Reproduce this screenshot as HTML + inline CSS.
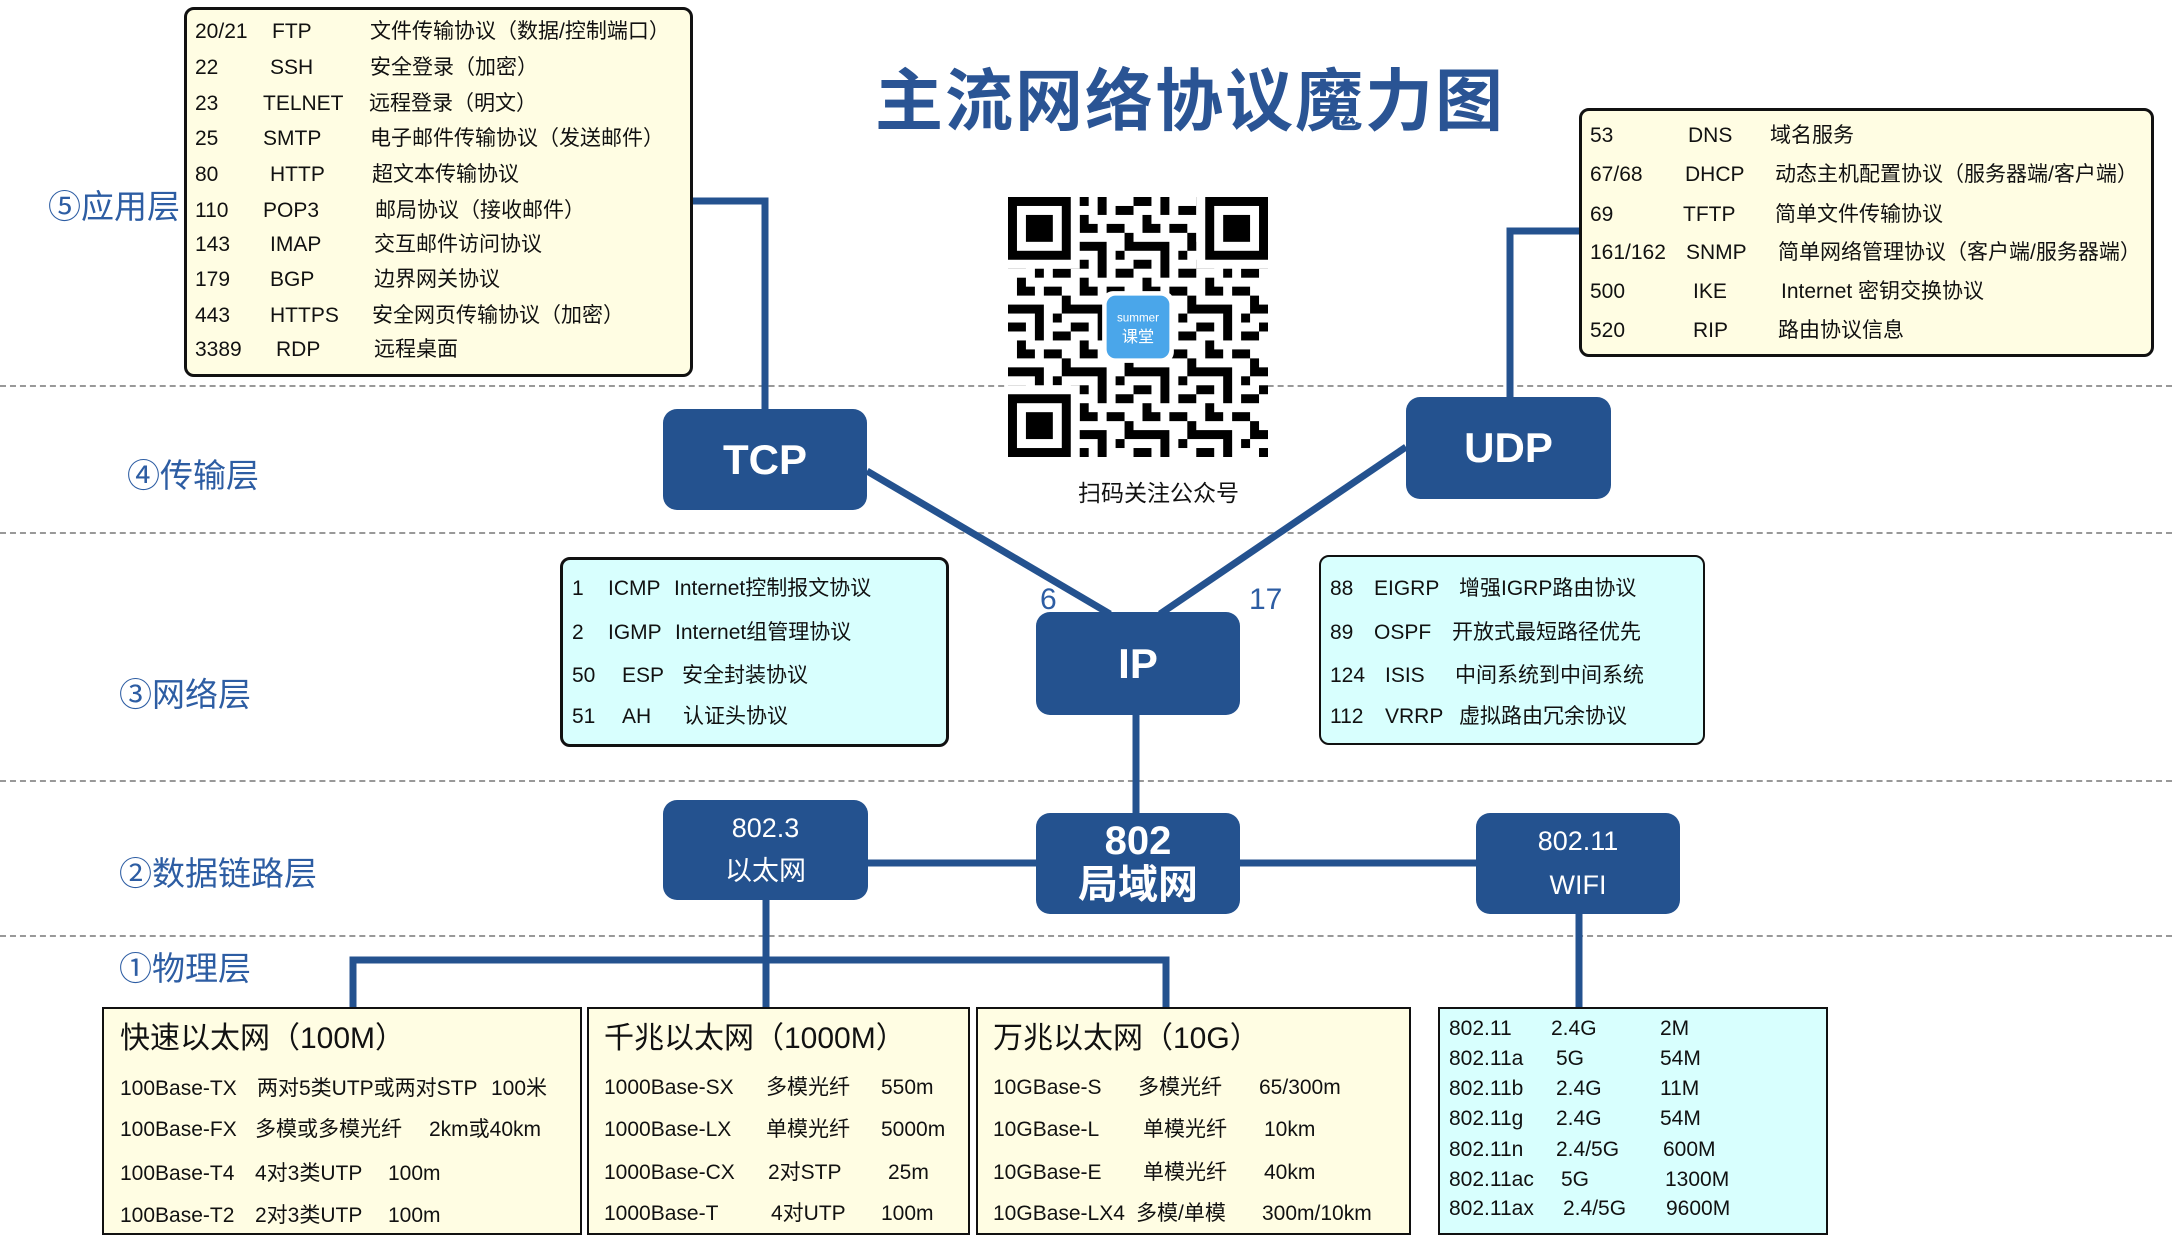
<!DOCTYPE html>
<html><head><meta charset="utf-8"><style>
html,body{margin:0;padding:0}
body{width:2172px;height:1244px;position:relative;overflow:hidden;background:#fff;font-family:"Liberation Sans","Noto Sans CJK SC",sans-serif;color:#111}
.a{position:absolute;white-space:nowrap;line-height:1}
.f{font-size:21px}
.box{position:absolute;box-sizing:border-box}
.y{background:#fffde3;border:3px solid #111;border-radius:10px}
.c{background:#d8fffe;border:2px solid #111;border-radius:10px}
.n{position:absolute;background:#24528f;border-radius:14px;color:#fff;display:flex;flex-direction:column;align-items:center;justify-content:center;box-sizing:border-box;text-align:center}
.n span{display:block;width:100%;text-align:center}
.L{position:absolute;color:#2d5da3;font-size:33px;line-height:1;white-space:nowrap}
.d{position:absolute;left:0;width:2172px;border-top:2px dashed #999}
.p{position:absolute;box-sizing:border-box;background:#fffde3;border:2px solid #111}
</style></head><body>

<div class="d" style="top:385px"></div>
<div class="d" style="top:532px"></div>
<div class="d" style="top:780px"></div>
<div class="d" style="top:935px"></div>

<svg class="a" style="left:0;top:0" width="2172" height="1244">
<g stroke="#24528f" stroke-width="7" fill="none">
<polyline points="693,201 765,201 765,412"/>
<polyline points="1579,231 1510,231 1510,400"/>
<line x1="867" y1="471" x2="1110" y2="614"/>
<line x1="1406" y1="447" x2="1160" y2="614"/>
<line x1="1136" y1="715" x2="1136" y2="813"/>
<line x1="868" y1="863" x2="1036" y2="863"/>
<line x1="1240" y1="863" x2="1476" y2="863"/>
<line x1="766" y1="900" x2="766" y2="1007"/>
<polyline points="353,1007 353,960 1166,960 1166,1007"/>
<line x1="1579" y1="914" x2="1579" y2="1007"/>
</g>
</svg>

<div class="L" style="left:48px;top:190px">⑤应用层</div>
<div class="L" style="left:127px;top:459px">④传输层</div>
<div class="L" style="left:119px;top:678px">③网络层</div>
<div class="L" style="left:119px;top:857px">②数据链路层</div>
<div class="L" style="left:119px;top:952px">①物理层</div>

<div class="a" style="left:875px;top:68px;font-size:68px;font-weight:bold;color:#2a5494;letter-spacing:2px">主流网络协议魔力图</div>

<!-- QR -->
<svg class="a" style="left:1008px;top:197px" width="260" height="260" viewBox="0 0 29 29">
<defs><pattern id="q" width="7" height="7" patternUnits="userSpaceOnUse">
<rect x="0" y="0" width="2" height="1"/><rect x="3" y="0" width="1" height="2"/><rect x="5" y="1" width="2" height="1"/><rect x="1" y="2" width="1" height="2"/><rect x="4" y="3" width="2" height="1"/><rect x="0" y="5" width="3" height="1"/><rect x="6" y="4" width="1" height="2"/><rect x="3" y="5" width="1" height="2"/><rect x="5" y="6" width="1" height="1"/><rect x="2" y="3" width="1" height="1"/></pattern></defs>
<rect width="29" height="29" fill="#fff"/>
<rect width="29" height="29" fill="url(#q)"/>
<g><rect x="0" y="0" width="8" height="8" fill="#fff"/><rect x="21" y="0" width="8" height="8" fill="#fff"/><rect x="0" y="21" width="8" height="8" fill="#fff"/>
<rect x="0" y="0" width="7" height="7"/><rect x="1" y="1" width="5" height="5" fill="#fff"/><rect x="2" y="2" width="3" height="3"/>
<rect x="22" y="0" width="7" height="7"/><rect x="23" y="1" width="5" height="5" fill="#fff"/><rect x="24" y="2" width="3" height="3"/>
<rect x="0" y="22" width="7" height="7"/><rect x="1" y="23" width="5" height="5" fill="#fff"/><rect x="2" y="24" width="3" height="3"/></g>
<rect x="10.5" y="10.5" width="8" height="8" rx="1.2" fill="#fff"/>
<rect x="11" y="11" width="7" height="7" rx="1" fill="#4aa6ea"/>
<text x="14.5" y="13.9" font-size="1.3" fill="#fff" text-anchor="middle" font-family="Liberation Sans">summer</text>
<text x="14.5" y="16.2" font-size="1.8" fill="#fff" text-anchor="middle" font-family="Noto Sans CJK SC">课堂</text>
</svg>
<div class="a" style="left:1078px;top:482px;font-size:23px">扫码关注公众号</div>

<!-- App box -->
<div class="box y" style="left:184px;top:7px;width:509px;height:370px"></div>
<div class="a f" style="left:195px;top:21px">20/21</div><div class="a f" style="left:272px;top:21px">FTP</div><div class="a f" style="left:370px;top:21px">文件传输协议（数据/控制端口）</div>
<div class="a f" style="left:195px;top:57px">22</div><div class="a f" style="left:270px;top:57px">SSH</div><div class="a f" style="left:370px;top:57px">安全登录（加密）</div>
<div class="a f" style="left:195px;top:93px">23</div><div class="a f" style="left:263px;top:93px">TELNET</div><div class="a f" style="left:369px;top:93px">远程登录（明文）</div>
<div class="a f" style="left:195px;top:128px">25</div><div class="a f" style="left:263px;top:128px">SMTP</div><div class="a f" style="left:370px;top:128px">电子邮件传输协议（发送邮件）</div>
<div class="a f" style="left:195px;top:164px">80</div><div class="a f" style="left:270px;top:164px">HTTP</div><div class="a f" style="left:372px;top:164px">超文本传输协议</div>
<div class="a f" style="left:195px;top:200px">110</div><div class="a f" style="left:263px;top:200px">POP3</div><div class="a f" style="left:375px;top:200px">邮局协议（接收邮件）</div>
<div class="a f" style="left:195px;top:234px">143</div><div class="a f" style="left:270px;top:234px">IMAP</div><div class="a f" style="left:374px;top:234px">交互邮件访问协议</div>
<div class="a f" style="left:195px;top:269px">179</div><div class="a f" style="left:270px;top:269px">BGP</div><div class="a f" style="left:374px;top:269px">边界网关协议</div>
<div class="a f" style="left:195px;top:305px">443</div><div class="a f" style="left:270px;top:305px">HTTPS</div><div class="a f" style="left:372px;top:305px">安全网页传输协议（加密）</div>
<div class="a f" style="left:195px;top:339px">3389</div><div class="a f" style="left:276px;top:339px">RDP</div><div class="a f" style="left:374px;top:339px">远程桌面</div>

<!-- UDP box list -->
<div class="box y" style="left:1579px;top:108px;width:575px;height:249px"></div>
<div class="a f" style="left:1590px;top:125px">53</div><div class="a f" style="left:1688px;top:125px">DNS</div><div class="a f" style="left:1770px;top:125px">域名服务</div>
<div class="a f" style="left:1590px;top:164px">67/68</div><div class="a f" style="left:1685px;top:164px">DHCP</div><div class="a f" style="left:1775px;top:164px">动态主机配置协议（服务器端/客户端）</div>
<div class="a f" style="left:1590px;top:204px">69</div><div class="a f" style="left:1683px;top:204px">TFTP</div><div class="a f" style="left:1775px;top:204px">简单文件传输协议</div>
<div class="a f" style="left:1590px;top:242px">161/162</div><div class="a f" style="left:1686px;top:242px">SNMP</div><div class="a f" style="left:1778px;top:242px">简单网络管理协议（客户端/服务器端）</div>
<div class="a f" style="left:1590px;top:281px">500</div><div class="a f" style="left:1693px;top:281px">IKE</div><div class="a f" style="left:1781px;top:281px">Internet 密钥交换协议</div>
<div class="a f" style="left:1590px;top:320px">520</div><div class="a f" style="left:1693px;top:320px">RIP</div><div class="a f" style="left:1778px;top:320px">路由协议信息</div>

<!-- nodes -->
<div class="n" style="left:663px;top:409px;width:204px;height:101px;font-size:42px;font-weight:bold"><span>TCP</span></div>
<div class="n" style="left:1406px;top:397px;width:205px;height:102px;font-size:42px;font-weight:bold"><span>UDP</span></div>
<div class="n" style="left:1036px;top:612px;width:204px;height:103px;font-size:42px;font-weight:bold"><span>IP</span></div>
<div class="n" style="left:1036px;top:813px;width:204px;height:101px;font-size:40px;font-weight:bold;line-height:1.08"><span>802</span><span>局域网</span></div>
<div class="n" style="left:663px;top:800px;width:205px;height:100px;font-size:27px;line-height:1.6"><span>802.3</span><span>以太网</span></div>
<div class="n" style="left:1476px;top:813px;width:204px;height:101px;font-size:27px;line-height:1.6"><span>802.11</span><span>WIFI</span></div>
<div class="a" style="left:1040px;top:585px;font-size:30px;color:#2d5da3">6</div>
<div class="a" style="left:1249px;top:585px;font-size:30px;color:#2d5da3">17</div>

<!-- network boxes -->
<div class="box c" style="left:560px;top:557px;width:389px;height:190px;border-width:3px"></div>
<div class="a f" style="left:572px;top:578px">1</div><div class="a f" style="left:608px;top:578px">ICMP</div><div class="a f" style="left:674px;top:578px">Internet控制报文协议</div>
<div class="a f" style="left:572px;top:622px">2</div><div class="a f" style="left:608px;top:622px">IGMP</div><div class="a f" style="left:675px;top:622px">Internet组管理协议</div>
<div class="a f" style="left:572px;top:665px">50</div><div class="a f" style="left:622px;top:665px">ESP</div><div class="a f" style="left:682px;top:665px">安全封装协议</div>
<div class="a f" style="left:572px;top:706px">51</div><div class="a f" style="left:622px;top:706px">AH</div><div class="a f" style="left:683px;top:706px">认证头协议</div>

<div class="box c" style="left:1319px;top:555px;width:386px;height:190px"></div>
<div class="a f" style="left:1330px;top:578px">88</div><div class="a f" style="left:1374px;top:578px">EIGRP</div><div class="a f" style="left:1459px;top:578px">增强IGRP路由协议</div>
<div class="a f" style="left:1330px;top:622px">89</div><div class="a f" style="left:1374px;top:622px">OSPF</div><div class="a f" style="left:1452px;top:622px">开放式最短路径优先</div>
<div class="a f" style="left:1330px;top:665px">124</div><div class="a f" style="left:1385px;top:665px">ISIS</div><div class="a f" style="left:1455px;top:665px">中间系统到中间系统</div>
<div class="a f" style="left:1330px;top:706px">112</div><div class="a f" style="left:1385px;top:706px">VRRP</div><div class="a f" style="left:1459px;top:706px">虚拟路由冗余协议</div>

<!-- physical -->
<div class="p" style="left:102px;top:1007px;width:480px;height:228px"></div>
<div class="a" style="left:120px;top:1024px;font-size:30px">快速以太网（100M）</div>
<div class="a f" style="left:120px;top:1078px">100Base-TX</div><div class="a f" style="left:257px;top:1078px">两对5类UTP或两对STP</div><div class="a f" style="left:491px;top:1078px">100米</div>
<div class="a f" style="left:120px;top:1119px">100Base-FX</div><div class="a f" style="left:255px;top:1119px">多模或多模光纤</div><div class="a f" style="left:429px;top:1119px">2km或40km</div>
<div class="a f" style="left:120px;top:1163px">100Base-T4</div><div class="a f" style="left:255px;top:1163px">4对3类UTP</div><div class="a f" style="left:388px;top:1163px">100m</div>
<div class="a f" style="left:120px;top:1205px">100Base-T2</div><div class="a f" style="left:255px;top:1205px">2对3类UTP</div><div class="a f" style="left:388px;top:1205px">100m</div>

<div class="p" style="left:587px;top:1007px;width:383px;height:228px"></div>
<div class="a" style="left:604px;top:1024px;font-size:30px">千兆以太网（1000M）</div>
<div class="a f" style="left:604px;top:1077px">1000Base-SX</div><div class="a f" style="left:766px;top:1077px">多模光纤</div><div class="a f" style="left:881px;top:1077px">550m</div>
<div class="a f" style="left:604px;top:1119px">1000Base-LX</div><div class="a f" style="left:766px;top:1119px">单模光纤</div><div class="a f" style="left:881px;top:1119px">5000m</div>
<div class="a f" style="left:604px;top:1162px">1000Base-CX</div><div class="a f" style="left:768px;top:1162px">2对STP</div><div class="a f" style="left:888px;top:1162px">25m</div>
<div class="a f" style="left:604px;top:1203px">1000Base-T</div><div class="a f" style="left:771px;top:1203px">4对UTP</div><div class="a f" style="left:881px;top:1203px">100m</div>

<div class="p" style="left:976px;top:1007px;width:435px;height:228px"></div>
<div class="a" style="left:993px;top:1024px;font-size:30px">万兆以太网（10G）</div>
<div class="a f" style="left:993px;top:1077px">10GBase-S</div><div class="a f" style="left:1138px;top:1077px">多模光纤</div><div class="a f" style="left:1259px;top:1077px">65/300m</div>
<div class="a f" style="left:993px;top:1119px">10GBase-L</div><div class="a f" style="left:1143px;top:1119px">单模光纤</div><div class="a f" style="left:1264px;top:1119px">10km</div>
<div class="a f" style="left:993px;top:1162px">10GBase-E</div><div class="a f" style="left:1143px;top:1162px">单模光纤</div><div class="a f" style="left:1264px;top:1162px">40km</div>
<div class="a f" style="left:993px;top:1203px">10GBase-LX4</div><div class="a f" style="left:1136px;top:1203px">多模/单模</div><div class="a f" style="left:1262px;top:1203px">300m/10km</div>

<div class="p" style="left:1438px;top:1007px;width:390px;height:228px;background:#d8fffe"></div>
<div class="a f" style="left:1449px;top:1018px">802.11</div><div class="a f" style="left:1551px;top:1018px">2.4G</div><div class="a f" style="left:1660px;top:1018px">2M</div>
<div class="a f" style="left:1449px;top:1048px">802.11a</div><div class="a f" style="left:1556px;top:1048px">5G</div><div class="a f" style="left:1660px;top:1048px">54M</div>
<div class="a f" style="left:1449px;top:1078px">802.11b</div><div class="a f" style="left:1556px;top:1078px">2.4G</div><div class="a f" style="left:1660px;top:1078px">11M</div>
<div class="a f" style="left:1449px;top:1108px">802.11g</div><div class="a f" style="left:1556px;top:1108px">2.4G</div><div class="a f" style="left:1660px;top:1108px">54M</div>
<div class="a f" style="left:1449px;top:1139px">802.11n</div><div class="a f" style="left:1556px;top:1139px">2.4/5G</div><div class="a f" style="left:1663px;top:1139px">600M</div>
<div class="a f" style="left:1449px;top:1169px">802.11ac</div><div class="a f" style="left:1561px;top:1169px">5G</div><div class="a f" style="left:1665px;top:1169px">1300M</div>
<div class="a f" style="left:1449px;top:1198px">802.11ax</div><div class="a f" style="left:1563px;top:1198px">2.4/5G</div><div class="a f" style="left:1666px;top:1198px">9600M</div>

</body></html>
